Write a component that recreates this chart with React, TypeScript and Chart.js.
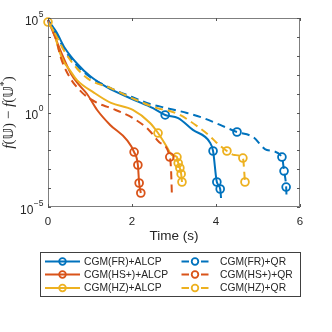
import React, { useEffect, useRef } from 'react';
import { Chart, registerables } from 'chart.js';

Chart.register(...registerables);

// ---- data ----
const seriesLabels = ['CGM(FR)+ALCP', 'CGM(HS+)+ALCP', 'CGM(HZ)+ALCP', 'CGM(FR)+QR', 'CGM(HS+)+QR', 'CGM(HZ)+QR'];
const seriesColors = ['#0072BD', '#D95319', '#EDB120', '#0072BD', '#D95319', '#EDB120'];
const seriesDashed = [false, false, false, true, true, true];

const frAlcpTime = [0, 0.1, 0.2, 0.4, 0.7, 1.0, 1.4, 2.0, 2.5, 2.79, 3.1, 3.45, 3.85, 3.93, 4.02, 4.1, 4.12];
const frAlcpValue = [7.8e4, 3.8e4, 1.8e4, 2.6e3, 3.7e2, 85, 22, 5.2, 1.7, 0.74, 0.51, 0.12, 0.027, 0.0092, 0.00021, 0.0000895, 0.00003];
const frAlcpMarkers = [2.79, 3.93, 4.02, 4.1];

const hsAlcpTime = [0, 0.14, 0.3, 0.55, 0.74, 0.93, 1.17, 1.48, 1.88, 2.05, 2.14, 2.17, 2.21];
const hsAlcpValue = [7.8e4, 1.4e4, 1.8e3, 1.1e2, 29, 9.5, 1.36, 0.22, 0.035, 0.0081, 0.00167, 0.000186, 0.000055];
const hsAlcpMarkers = [2.05, 2.14, 2.17, 2.21];

const hzAlcpTime = [0, 0.14, 0.26, 0.38, 0.5, 0.69, 1.1, 1.5, 2.02, 2.43, 2.62, 2.83, 2.95, 3.07, 3.1, 3.14, 3.17, 3.19];
const hzAlcpValue = [6.1e4, 1.8e4, 2.0e3, 4.7e2, 2.0e2, 52, 11, 3.2, 1.36, 0.28, 0.082, 0.015, 0.0056, 0.0044, 0.0021, 0.00116, 0.00056, 0.00021];
const hzAlcpMarkers = [2.62, 3.07, 3.1, 3.14, 3.17, 3.19];

const frQrTime = [0, 0.2, 0.4, 0.7, 1.0, 1.48, 2.0, 2.43, 2.83, 3.31, 3.7, 4.1, 4.5, 4.88, 5.21, 5.57, 5.62, 5.67, 5.68];
const frQrValue = [7.8e4, 1.4e4, 2.0e3, 2.9e2, 76, 20, 6.6, 2.8, 1.7, 0.94, 0.51, 0.22, 0.093, 0.051, 0.0104, 0.0044, 0.0008, 0.000114, 0.000034];
const frQrMarkers = [4.5, 5.57, 5.62, 5.67];

const hsQrTime = [0, 0.1, 0.2, 0.3, 0.5, 0.8, 1.17, 1.5, 2.02, 2.4, 2.65, 2.9, 2.93, 2.95];
const hsQrValue = [7.8e4, 2.3e4, 6.9e3, 8.6e2, 85, 12, 3.2, 1.7, 0.51, 0.12, 0.027, 0.0044, 0.00091, 0.000043];
const hsQrMarkers = [2.9];

const hzQrTime = [0, 0.2, 0.4, 0.7, 1.0, 1.48, 2.0, 2.6, 2.9, 3.14, 3.55, 3.85, 4.0, 4.26, 4.45, 4.64, 4.69];
const hzQrValue = [6.1e4, 1.1e4, 1.6e3, 2.0e2, 52, 20, 5.8, 1.7, 1.2, 0.74, 0.19, 0.057, 0.027, 0.0092, 0.0056, 0.0039, 0.00021];
const hzQrMarkers = [0, 4.26, 4.64, 4.69];

const xTicks = [0, 2, 4, 6];
const yDecades = [1e-5, 1e-4, 1e-3, 1e-2, 1e-1, 1, 1e1, 1e2, 1e3, 1e4, 1e5];
const yLabelValues = [1e5, 1, 1e-5];
const yLabelExponents = ['5', '0', '\u22125'];
const xTitle = 'Time (s)';

const seriesTimes = [frAlcpTime, hsAlcpTime, hzAlcpTime, frQrTime, hsQrTime, hzQrTime];
const seriesValues = [frAlcpValue, hsAlcpValue, hzAlcpValue, frQrValue, hsQrValue, hzQrValue];
const seriesMarkers = [frAlcpMarkers, hsAlcpMarkers, hzAlcpMarkers, frQrMarkers, hsQrMarkers, hzQrMarkers];

const TEXT = '#262626';
const SANS = '"Liberation Sans", Arial, sans-serif';
const SERIF = '"Liberation Serif", "DejaVu Serif", serif';
const MARKER_R = 3.9;
const DASH = [8, 5];

function drawMarker(ctx: CanvasRenderingContext2D, x: number, y: number, color: string) {
  ctx.save();
  ctx.setLineDash([]);
  ctx.strokeStyle = color;
  ctx.lineWidth = 1.8;
  ctx.beginPath();
  ctx.arc(x, y, 3.3, 0, Math.PI * 2);
  ctx.stroke();
  ctx.restore();
}

const decorPlugin = {
  id: 'decor',
  afterDraw(chart: any) {
    const ctx: CanvasRenderingContext2D = chart.ctx;
    const { left, right, top, bottom } = chart.chartArea;
    const xs = chart.scales.x;
    const ys = chart.scales.y;
    ctx.save();

    // axes box
    ctx.strokeStyle = '#7f7f7f';
    ctx.lineWidth = 1;
    ctx.strokeRect(left + 0.5, top + 0.5, right - left - 1, bottom - top - 1);

    // inward ticks
    ctx.strokeStyle = '#555';
    ctx.beginPath();
    for (const v of xTicks) {
      const x = Math.round(xs.getPixelForValue(v)) + 0.5;
      ctx.moveTo(x, bottom); ctx.lineTo(x, bottom - 3);
      ctx.moveTo(x, top); ctx.lineTo(x, top + 3);
    }
    for (const v of yDecades) {
      const y = Math.round(ys.getPixelForValue(v)) + 0.5;
      ctx.moveTo(left, y); ctx.lineTo(left + 3, y);
      ctx.moveTo(right, y); ctx.lineTo(right - 3, y);
    }
    ctx.stroke();

    ctx.fillStyle = TEXT;
    // x tick labels
    ctx.font = `11.5px ${SANS}`;
    ctx.textAlign = 'center';
    ctx.textBaseline = 'middle';
    for (const v of xTicks) {
      ctx.fillText(String(v), xs.getPixelForValue(v), bottom + 14.5);
    }

    // y tick labels 10^n
    yLabelValues.forEach((v, i) => {
      const y = ys.getPixelForValue(v);
      const exp = yLabelExponents[i];
      ctx.font = `8.5px ${SANS}`;
      const we = ctx.measureText(exp).width;
      ctx.textAlign = 'left';
      ctx.textBaseline = 'middle';
      const rightEdge = left - 4.5;
      ctx.fillText(exp, rightEdge - we, y - 3.5);
      ctx.font = `12px ${SANS}`;
      ctx.textAlign = 'right';
      ctx.fillText('10', rightEdge - we - 0.5, y + 3.5);
    });

    // x title
    ctx.font = `13.5px ${SANS}`;
    ctx.textAlign = 'center';
    ctx.textBaseline = 'middle';
    ctx.fillText(xTitle, (left + right) / 2, bottom + 29);

    // y title
    const runs = [
      { t: 'f', f: `italic 15px ${SERIF}`, dy: 0 },
      { t: '(', f: `15px ${SERIF}`, dy: 0 },
      { t: '\u{1D54C}', f: `14px "DejaVu Sans", sans-serif`, dy: 0 },
      { t: ')', f: `15px ${SERIF}`, dy: 0 },
      { t: ' \u2212 ', f: `15px ${SERIF}`, dy: 0 },
      { t: 'f', f: `italic 15px ${SERIF}`, dy: 0 },
      { t: '(', f: `15px ${SERIF}`, dy: 0 },
      { t: '\u{1D54C}', f: `14px "DejaVu Sans", sans-serif`, dy: 0 },
      { t: '*', f: `10px ${SERIF}`, dy: -6 },
      { t: ')', f: `15px ${SERIF}`, dy: 0 },
    ];
    let total = 0;
    const widths = runs.map(r => { ctx.font = r.f; const w = ctx.measureText(r.t).width; total += w; return w; });
    ctx.save();
    ctx.translate(12.5, (top + bottom) / 2);
    ctx.rotate(-Math.PI / 2);
    ctx.textAlign = 'left';
    ctx.textBaseline = 'alphabetic';
    let cx = -total / 2;
    runs.forEach((r, i) => {
      ctx.font = r.f;
      ctx.fillText(r.t, cx, r.dy);
      cx += widths[i];
    });
    ctx.restore();

    // legend
    const bx = 40.5, by = 252.5, bw = 260, bh = 44;
    ctx.fillStyle = '#ffffff';
    ctx.fillRect(bx, by, bw, bh);
    ctx.strokeStyle = '#404040';
    ctx.lineWidth = 1;
    ctx.strokeRect(bx, by, bw, bh);
    const rowsY = [261.5, 274.5, 288];
    ctx.font = `10.3px ${SANS}`;
    ctx.textBaseline = 'middle';
    ctx.textAlign = 'left';
    chart.data.datasets.forEach((ds: any, i: number) => {
      const col = i < 3 ? 0 : 1;
      const row = i % 3;
      const y = rowsY[row];
      const color = seriesColors[i];
      ctx.strokeStyle = color;
      ctx.lineWidth = 2;
      ctx.setLineDash([]);
      if (col === 0) {
        ctx.beginPath(); ctx.moveTo(45, y); ctx.lineTo(80, y); ctx.stroke();
        drawMarker(ctx, 62.5, y, color);
        ctx.fillStyle = TEXT;
        ctx.fillText(seriesLabels[i], 84, y + 0.5);
      } else {
        ctx.beginPath();
        ctx.moveTo(181.5, y); ctx.lineTo(189, y);
        ctx.moveTo(201, y); ctx.lineTo(208.5, y);
        ctx.stroke();
        drawMarker(ctx, 195, y, color);
        ctx.fillStyle = TEXT;
        ctx.fillText(seriesLabels[i], 220, y + 0.5);
      }
    });
    ctx.restore();
  },
};

export default function App() {
  const ref = useRef<HTMLCanvasElement | null>(null);
  useEffect(() => {
    document.body.style.margin = '0';
    const canvas = ref.current;
    if (!canvas) return;
    const datasets = seriesLabels.map((label, i) => ({
      label,
      data: seriesTimes[i].map((t, k) => ({ x: t, y: seriesValues[i][k] })),
      borderColor: seriesColors[i],
      backgroundColor: 'rgba(0,0,0,0)',
      borderWidth: 2,
      borderDash: seriesDashed[i] ? DASH : [],
      cubicInterpolationMode: 'monotone' as const,
      pointRadius: seriesTimes[i].map(t => (seriesMarkers[i].includes(t) ? MARKER_R : 0)),
      pointHoverRadius: 0,
      pointBorderWidth: 1.8,
      pointBorderColor: seriesColors[i],
      pointBackgroundColor: 'rgba(0,0,0,0)',
      clip: false as any,
      order: -i,
      fill: false,
    }));
    const chart = new Chart(canvas, {
      type: 'line',
      data: { datasets },
      options: {
        animation: false,
        responsive: false,
        devicePixelRatio: 1,
        layout: { padding: { top: 18, right: 32, left: 0, bottom: 0 } },
        plugins: { legend: { display: false }, tooltip: { enabled: false } },
        events: [],
        scales: {
          x: {
            type: 'linear',
            min: 0,
            max: 6,
            ticks: { display: false },
            grid: { display: false, drawTicks: false },
            border: { display: false },
            afterFit: (s: any) => { s.height = 125; },
          },
          y: {
            type: 'logarithmic',
            min: 1e-5,
            max: 1e5,
            ticks: { display: false },
            grid: { display: false, drawTicks: false },
            border: { display: false },
            afterFit: (s: any) => { s.width = 48; },
          },
        },
      },
      plugins: [decorPlugin],
    });
    return () => chart.destroy();
  }, []);
  return <canvas ref={ref} width={332} height={332} style={{ display: 'block', width: 332, height: 332 }} />;
}
